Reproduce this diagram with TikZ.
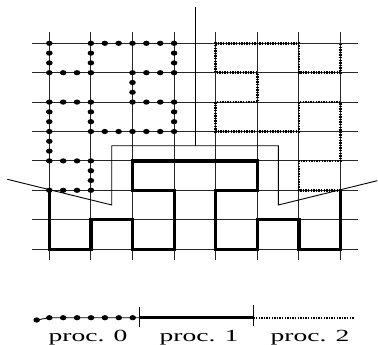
\documentclass[tikz,border=0pt]{standalone}
\usepackage{fontspec}
\setmainfont{Liberation Serif}
\usetikzlibrary{calc}
\begin{document}
\begin{tikzpicture}[x=1pt,y=-1pt,
  gridline/.style={line width=0.9pt, black!85},
  guide/.style={line width=0.9pt, black},
  procone/.style={line width=3.2pt, black, line join=miter},
  proctwo/.style={line width=2.8pt, black, dash pattern=on 1.4pt off 1.2pt},
  bigdot/.style={fill=black, draw=none},
  lbl/.style={font=\fontsize{17}{19}\selectfont, xscale=1.62, anchor=base, inner sep=0pt}]
\useasboundingbox (0,0) rectangle (378,345);
% grid points
\foreach \i in {0,...,7}{
  \foreach \j in {0,...,7}{
    \coordinate (g\i\j) at ({49.3+41.6*\i},{43.3+29.4*\j});
  }
}
% grid lines
\foreach \i in {0,...,7}
  \draw[gridline] ({49.3+41.6*\i},31.7) -- ({49.3+41.6*\i},260);
\foreach \j in {0,...,7}
  \draw[gridline] (32,{43.3+29.4*\j}) -- (358.3,{43.3+29.4*\j});
% guide lines
\coordinate (top) at (195,7);
\coordinate (barM) at (195,145.7);
\coordinate (barL) at (111.7,145.7);
\coordinate (barR) at (278.3,145.7);
\coordinate (footL) at (111.7,205);
\coordinate (footR) at (278.3,205);
\coordinate (endL) at (7.3,179.3);
\coordinate (endR) at (377.3,180.7);
\draw[guide] (top) -- (barM);
\draw[guide] (endL) -- (footL) -- (barL) -- (barR) -- (footR) -- (endR);
% proc 1
\draw[procone] (g05) -- (g07) -- (g17) -- (g16) -- (g26) -- (g27) -- (g37) -- (g35) -- (g25) -- (g24) -- (g54) -- (g55) -- (g45) -- (g47) -- (g57) -- (g56) -- (g66) -- (g67) -- (g77) -- (g75);
% proc 2
\draw[proctwo] (g75) -- (g65) -- (g64) -- (g74) -- (g72) -- (g62) -- (g63) -- (g43) -- (g42) -- (g52) -- (g51) -- (g41) -- (g40) -- (g60) -- (g61) -- (g71) -- (g70);
% proc 0
\foreach \a/\b in {00/01,01/11,11/10,10/20,20/30,30/31,31/21,21/22,22/32,32/33,33/23,23/13,13/12,12/02,02/03,03/04,04/14,14/15,15/05}{
  \foreach \k in {0,1,2}
    \fill[bigdot] ($(g\a)!\k/3!(g\b)$) ellipse [x radius=3.3pt, y radius=2.6pt];
}
\fill[bigdot] (g05) ellipse [x radius=3.3pt, y radius=2.6pt];
% legend
\coordinate (L0) at (36.7,320);
\coordinate (L1) at (49.3,317.7);
\coordinate (T1) at (139.3,317.7);
\coordinate (T2) at (253.3,317.7);
\coordinate (E) at (354,317.7);
\draw[guide] (L0) -- (L1) -- (T1);
\fill[bigdot] (L0) ellipse [x radius=3.3pt, y radius=2.6pt];
\foreach \k in {0,...,6}
  \fill[bigdot] ($(L1)+(13.9*\k,0)$) ellipse [x radius=3.3pt, y radius=2.6pt];
\draw[guide] ($(T1)+(0,-11)$) -- ($(T1)+(0,9)$);
\draw[procone, line width=2.8pt] (T1) -- (T2);
\draw[guide] ($(T2)+(0,-13)$) -- ($(T2)+(0,8)$);
\draw[proctwo, line width=2.2pt] (T2) -- (E);
\node[lbl] (l0) at (88,341) {proc. 0};
\node[lbl] (l1) at (199,341) {proc. 1};
\node[lbl] (l2) at (310,341) {proc. 2};
\end{tikzpicture}
\end{document}
